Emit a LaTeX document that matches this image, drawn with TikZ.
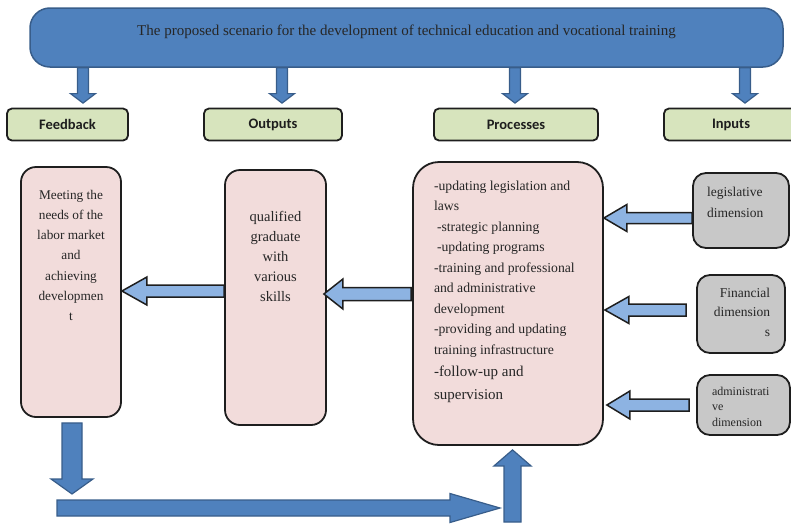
\documentclass[tikz,border=0pt]{standalone}
\usepackage{fontspec}
\setmainfont{Liberation Serif}
\newfontfamily\labfont{Carlito}
\usetikzlibrary{calc}
\definecolor{blueF}{HTML}{4F81BD}
\definecolor{blueD}{HTML}{385D8A}
\definecolor{lightF}{HTML}{8DB3E2}
\definecolor{pinkF}{HTML}{F2DCDB}
\definecolor{grayF}{HTML}{C8C8C8}
\definecolor{greenF}{HTML}{D7E4BD}
\definecolor{ink}{HTML}{1E1E1E}
\definecolor{txt}{HTML}{262626}
% block arrow: [style]{from}{to}{shaft half width}{head half width}{head length}
\newcommand{\blockarrow}[6][]{%
  \path[#1] let \p1=#2, \p2=#3,
    \n1={veclen(\x2-\x1,\y2-\y1)},
    \n2={(\x2-\x1)/\n1}, \n3={(\y2-\y1)/\n1},
    \n4={\n1-(#6)}
  in ({\x1-(#4)*\n3},{\y1+(#4)*\n2})
  -- ({\x1+\n4*\n2-(#4)*\n3},{\y1+\n4*\n3+(#4)*\n2})
  -- ({\x1+\n4*\n2-(#5)*\n3},{\y1+\n4*\n3+(#5)*\n2})
  -- (\x2,\y2)
  -- ({\x1+\n4*\n2+(#5)*\n3},{\y1+\n4*\n3-(#5)*\n2})
  -- ({\x1+\n4*\n2+(#4)*\n3},{\y1+\n4*\n3-(#4)*\n2})
  -- ({\x1+(#4)*\n3},{\y1-(#4)*\n2})
  -- cycle;}
\tikzset{
  banner/.style={draw=blueD, fill=blueF, line width=1.5pt, rounded corners=20pt,
    minimum width=753pt, minimum height=59pt, inner sep=0pt},
  tabbox/.style={draw=ink, fill=greenF, line width=1.8pt, rounded corners=5pt,
    minimum height=32pt, inner sep=0pt, text=ink,
    font=\labfont\bfseries\fontsize{14.5}{17}\selectfont},
  pinkbox/.style={draw=ink, fill=pinkF, line width=1.8pt, rounded corners=15pt,
    inner sep=0pt, text=txt},
  graybox/.style={draw=ink, fill=grayF, line width=1.8pt, rounded corners=13pt,
    inner sep=0pt, text=txt},
  bluearrow/.style={fill=blueF, draw=blueD, line width=1.2pt, line join=miter},
  lightarrow/.style={fill=lightF, draw=ink, line width=1.5pt, line join=miter}
}
\begin{document}
\begin{tikzpicture}[x=1pt,y=-1pt]
\useasboundingbox (0,0) rectangle (791,525);

% top banner
\node[banner] (banner) at (406.5,37.5) {};
\node[text=txt, font=\fontsize{15}{18}\selectfont, inner sep=0pt] (title)
  at ($(banner.center)+(0,-6)$)
  {The proposed scenario for the development of technical education and vocational training};

% header tabs
\node[tabbox, minimum width=121pt] (tfb)   at (67.5,124.5) {Feedback};
\node[tabbox, minimum width=138pt] (tout)  at (273,124.5)  {Outputs};
\node[tabbox, minimum width=164pt] (tproc) at (516,124.5)  {Processes};
\node[tabbox, minimum width=134pt] (tin)   at (731,124.5)  {Inputs};

% banner arrows
\blockarrow[bluearrow]{(banner.south -| 83,0)}{($(tfb.north -| 83,0)+(0,-4.5)$)}{5.5}{12.5}{9.5}
\blockarrow[bluearrow]{(banner.south -| 282,0)}{($(tout.north -| 282,0)+(0,-4.5)$)}{5.5}{12.5}{9.5}
\blockarrow[bluearrow]{(banner.south -| 515,0)}{($(tproc.north -| 515,0)+(0,-4.5)$)}{5.5}{12.5}{9.5}
\blockarrow[bluearrow]{(banner.south -| 745,0)}{($(tin.north -| 745,0)+(0,-4.5)$)}{5.5}{12.5}{9.5}

% main boxes
\node[pinkbox] (fb) at (71,292) {\parbox[c][250pt][t]{100pt}{\centering
  \fontsize{13.3}{20.3}\selectfont\rule{0pt}{32pt}Meeting the\\needs of the\\labor market\\and\\achieving\\developmen\\t}};
\node[pinkbox] (out) at (275.5,297.5) {\parbox[c][255pt][t]{101pt}{\centering
  \fontsize{14.5}{20}\selectfont\rule{0pt}{51pt}qualified\\graduate\\with\\various\\skills}};
\node[pinkbox, rounded corners=26pt] (proc) at (508,303.5) {\parbox[c][283pt][t]{190pt}{\raggedright\leftskip=21pt
  \fontsize{13.7}{20.5}\selectfont\rule{0pt}{28pt}-updating legislation and\\laws\\
  \hspace*{3pt}-strategic planning\\\hspace*{3pt}-updating programs\\
  -training and professional\\and administrative\\development\\
  -providing and updating\\training infrastructure\par
  \fontsize{15}{22.5}\selectfont -follow-up and\\supervision}};

% input boxes
\node[graybox] (leg) at (741,210.5) {\parbox[c][75pt][t]{96pt}{\raggedright\leftskip=14pt
  \fontsize{13.5}{21}\selectfont\rule{0pt}{23pt}legislative\\dimension}};
\node[graybox] (fin) at (741,314) {\parbox[c][78pt][t]{88pt}{\raggedleft\rightskip=15pt
  \fontsize{13.5}{19.5}\selectfont\rule{0pt}{22pt}Financial\\dimension\\s}};
\node[graybox] (adm) at (743.5,405) {\parbox[c][60pt][t]{93pt}{\raggedright\leftskip=15pt
  \fontsize{12}{15.5}\selectfont\rule{0pt}{20pt}administrati\\ve\\dimension}};

% input arrows
\blockarrow[lightarrow]{(leg.west |- 0,218)}{(proc.east |- 0,218)}{5.5}{13.5}{23}
\blockarrow[lightarrow]{($(fin.west)+(-10,-4)$)}{($(proc.east |- 0,310)+(1,0)$)}{6}{13.5}{24}
\blockarrow[lightarrow]{($(adm.west)+(-7,0)$)}{($(proc.east |- 0,405)+(3,0)$)}{6}{14}{23}

% flow arrows
\blockarrow[lightarrow]{($(proc.west |- 0,294)+(-1,0)$)}{($(out.east |- 0,294)+(-3,0)$)}{6.5}{15}{19}
\blockarrow[lightarrow]{(out.west |- 0,291)}{(fb.east |- 0,291)}{6}{14}{25}

% feedback loop
\coordinate (dn) at (72,494);
\coordinate (hs) at (57,508);
\coordinate (he) at (500,508);
\coordinate (ub) at (512.5,522);
\blockarrow[bluearrow]{($(fb.south)+(1,5)$)}{(dn)}{10}{21}{15}
\blockarrow[bluearrow]{(hs)}{(he)}{8}{14.5}{50}
\blockarrow[bluearrow]{(ub)}{($(proc.south)+(4.5,4)$)}{8.5}{18.5}{16}
\end{tikzpicture}
\end{document}
